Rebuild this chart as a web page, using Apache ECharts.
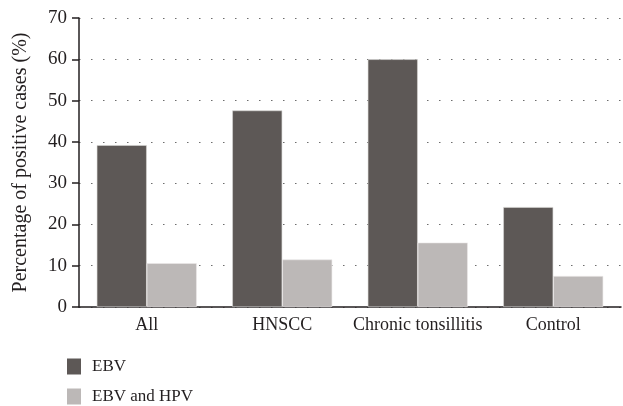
<!DOCTYPE html>
<html>
<head>
<meta charset="utf-8">
<script src="https://cdn.jsdelivr.net/npm/echarts@6/dist/echarts.min.js"></script>
<style>
  html, body { margin: 0; padding: 0; background: #fff; }
  #chart { width: 623px; height: 406px; }
</style>
</head>
<body>
<div id="chart"></div>
<script>
var categories = ['All', 'HNSCC', 'Chronic tonsillitis', 'Control'];
var ebv = [39.2, 47.6, 60.0, 24.2];
var ebvHpv = [10.6, 11.5, 15.6, 7.5];
var seriesNames = ['EBV', 'EBV and HPV'];

var font = 'Liberation Serif';
var ink = '#231f20';
var chart = echarts.init(document.getElementById('chart'));

// one legend per entry so they stack like the original
function legendAt(name, top) {
    return {
        orient: 'vertical',
        left: 67,
        top: top,
        padding: 0,
        itemWidth: 14,
        itemHeight: 16,
        icon: 'rect',
        itemStyle: { borderWidth: 0 },
        textStyle: { fontFamily: font, fontSize: 17, color: ink, padding: [0, 0, 0, 6] },
        data: [name]
    };
}

chart.setOption({
    animation: false,
    textStyle: { fontFamily: font, color: ink },
    legend: [legendAt(seriesNames[0], 358), legendAt(seriesNames[1], 388)],
    grid: { left: 79, top: 18, right: 2, bottom: 99, containLabel: false },
    xAxis: {
        type: 'category',
        data: categories,
        axisLine: { lineStyle: { color: ink, width: 1.5 } },
        axisTick: { show: false },
        axisLabel: { interval: 0, fontFamily: font, fontSize: 18, color: ink, margin: 9 }
    },
    yAxis: {
        type: 'value',
        min: 0,
        max: 70,
        interval: 10,
        name: 'Percentage of positive cases (%)',
        nameLocation: 'middle',
        nameGap: 48,
        nameTextStyle: { fontFamily: font, fontSize: 20, color: ink },
        axisLine: { show: true, lineStyle: { color: ink, width: 1.5 } },
        axisTick: { show: true, length: 7, lineStyle: { color: ink, width: 1.5 } },
        axisLabel: { fontFamily: font, fontSize: 19, color: ink, margin: 12 },
        splitLine: { lineStyle: { color: '#6d6d6d', type: [1.5, 10.5], width: 1.2 } }
    },
    series: [
        {
            name: seriesNames[0],
            type: 'bar',
            data: ebv,
            barWidth: 50,
            barGap: '0%',
            itemStyle: { color: '#5d5856', borderColor: '#d8d6d5', borderWidth: 0.6 }
        },
        {
            name: seriesNames[1],
            type: 'bar',
            data: ebvHpv,
            barWidth: 50,
            itemStyle: { color: '#bcb8b7', borderColor: '#eceaea', borderWidth: 0.6 }
        }
    ]
});
</script>
</body>
</html>
